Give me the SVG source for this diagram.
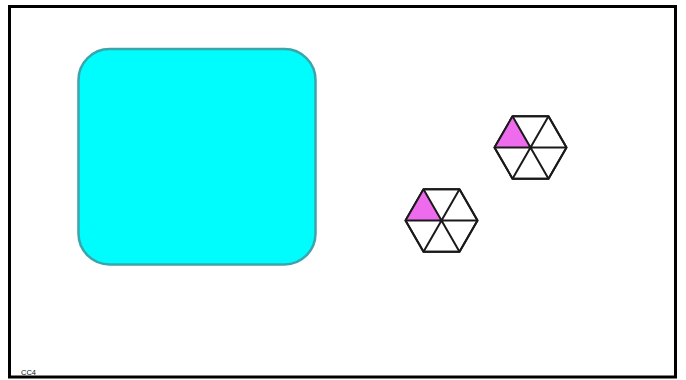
<svg xmlns="http://www.w3.org/2000/svg" width="686" height="380" viewBox="0 0 686 380">
<style>
.frame{fill:#fff;stroke:#000;stroke-width:3}
.hex{fill:#fff;stroke:#1a1a1a;stroke-width:2;stroke-linejoin:round}
.tri{fill:#ee6bee;stroke:none}
.ln{stroke:#1a1a1a;stroke-width:2;fill:none}
.lbl{font-family:"Liberation Sans",Arial,sans-serif;font-size:7.5px;fill:#111}
</style>
<defs>
<g id="hexshape">
<polygon class="hex" points="-18,-31.2 18,-31.2 36,0 18,31.2 -18,31.2 -36,0"/>
<polygon class="tri" points="-18,-31.2 -36,0 0,0"/>
<path class="ln" d="M-36,0 L36,0 M-18,-31.2 L18,31.2 M18,-31.2 L-18,31.2"/>
<polygon class="hex" style="fill:none" points="-18,-31.2 18,-31.2 36,0 18,31.2 -18,31.2 -36,0"/>
</g>
</defs>
<rect class="frame" x="9.5" y="6.5" width="666" height="370.5"/>
<g id="square">
<rect x="78.5" y="49" width="237" height="215.5" rx="31" ry="31" fill="#00fdfd" stroke="#3aa5ad" stroke-width="2.5"/>
</g>
<g id="hexagon-upper" transform="translate(530.5,147.5)">
<use href="#hexshape"/>
</g>
<g id="hexagon-lower" transform="translate(441.5,220.5)">
<use href="#hexshape"/>
</g>
<g id="connectors"></g>
<text class="lbl" x="21" y="375">CC4</text>
</svg>
